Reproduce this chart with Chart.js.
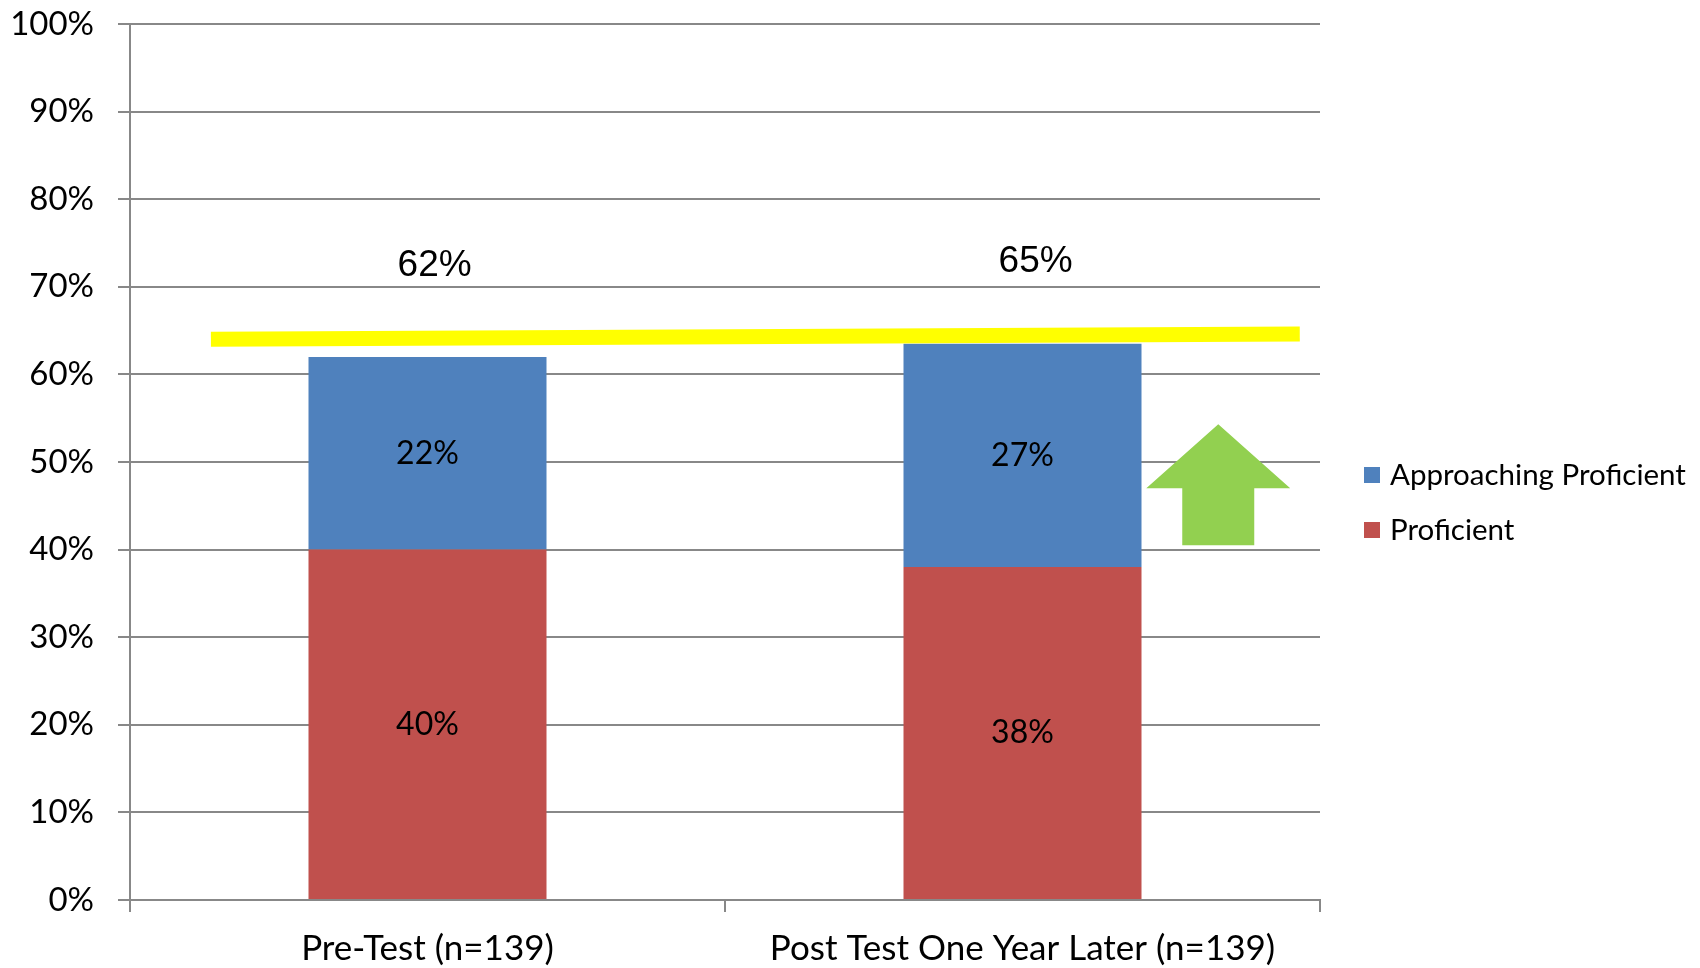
<!DOCTYPE html>
<html>
<head>
<meta charset="utf-8">
<script src="https://cdn.jsdelivr.net/npm/chart.js@4.4.1/dist/chart.umd.min.js"></script>
<style>
  html, body { margin: 0; padding: 0; background: #fff; }
</style>
</head>
<body>
<canvas id="grafico" width="1700" height="968"></canvas>
<script>
// Dados do gráfico
const categorias = ["Pre-Test (n=139)", "Post Test One Year Later (n=139)"];
const proficient = [40, 38];
const approaching = [22, 25.5];
const rotulosProficient = ["40%", "38%"];
const rotulosApproaching = ["22%", "27%"];
const rotulosTotal = ["62%", "65%"];
const linhaAmarelaX = [-0.364, 1.466];
const linhaAmarelaY = [64.0, 64.6];

const AZUL = "#4F81BD";
const VERMELHO = "#C0504D";
const CINZA = "#888888";
const FONTE = "Lato, 'Open Sans', sans-serif";

// posição dos textos de total e da seta (unidades de categoria / %)
const posTotal = [{ x: 0.012, y: 72.4 }, { x: 1.022, y: 72.9 }];
const seta = { x: 1.329, topo: 54.3, baseCabeca: 47.0, fundo: 40.5, meiaCabeca: 0.121, meiaHaste: 0.0605 };

const pluginExtras = {
  id: "extras",
  afterDatasetsDraw(chart) {
    const ctx = chart.ctx;
    const xs = chart.scales.x;
    const ys = chart.scales.y;
    ctx.save();

    // linha amarela
    ctx.strokeStyle = "#FFFF00";
    ctx.lineWidth = 15;
    ctx.lineCap = "butt";
    ctx.beginPath();
    ctx.moveTo(xs.getPixelForValue(linhaAmarelaX[0]), ys.getPixelForValue(linhaAmarelaY[0]));
    ctx.lineTo(xs.getPixelForValue(linhaAmarelaX[1]), ys.getPixelForValue(linhaAmarelaY[1]));
    ctx.stroke();

    // rótulos dentro das barras
    ctx.fillStyle = "#000";
    ctx.font = "32px " + FONTE;
    ctx.textAlign = "center";
    ctx.textBaseline = "middle";
    [rotulosProficient, rotulosApproaching].forEach((rot, i) => {
      chart.getDatasetMeta(i).data.forEach((el, j) => {
        ctx.fillText(rot[j], el.x, (el.y + el.base) / 2);
      });
    });

    // totais
    ctx.font = "37px 'Liberation Sans', Arial, sans-serif";
    rotulosTotal.forEach((t, j) => {
      ctx.fillText(t, xs.getPixelForValue(posTotal[j].x), ys.getPixelForValue(posTotal[j].y));
    });

    // seta verde
    const cx = xs.getPixelForValue(seta.x);
    const cab = xs.getPixelForValue(seta.x + seta.meiaCabeca) - cx;
    const has = xs.getPixelForValue(seta.x + seta.meiaHaste) - cx;
    const yTopo = ys.getPixelForValue(seta.topo);
    const yBase = ys.getPixelForValue(seta.baseCabeca);
    const yFundo = ys.getPixelForValue(seta.fundo);
    ctx.fillStyle = "#92D050";
    ctx.beginPath();
    ctx.moveTo(cx, yTopo);
    ctx.lineTo(cx + cab, yBase);
    ctx.lineTo(cx + has, yBase);
    ctx.lineTo(cx + has, yFundo);
    ctx.lineTo(cx - has, yFundo);
    ctx.lineTo(cx - has, yBase);
    ctx.lineTo(cx - cab, yBase);
    ctx.closePath();
    ctx.fill();

    // legenda
    const itens = [
      { texto: "Approaching Proficient", cor: AZUL, y: 475 },
      { texto: "Proficient", cor: VERMELHO, y: 530 }
    ];
    ctx.font = "29.5px " + FONTE;
    ctx.textAlign = "left";
    itens.forEach(it => {
      ctx.fillStyle = it.cor;
      ctx.fillRect(1364, it.y - 8, 16, 16);
      ctx.fillStyle = "#000";
      ctx.fillText(it.texto, 1390, it.y);
    });
    ctx.restore();
  }
};

const ctxGrafico = document.getElementById("grafico").getContext("2d");
new Chart(ctxGrafico, {
  type: "bar",
  data: {
    labels: categorias,
    datasets: [
      { label: "Proficient", data: proficient, backgroundColor: VERMELHO, categoryPercentage: 1, barPercentage: 0.4 },
      { label: "Approaching Proficient", data: approaching, backgroundColor: AZUL, categoryPercentage: 1, barPercentage: 0.4 }
    ]
  },
  options: {
    responsive: false,
    devicePixelRatio: 1,
    animation: false,
    layout: { padding: { left: 0, right: 380, top: 24, bottom: 0 } },
    plugins: { legend: { display: false }, tooltip: { enabled: false } },
    scales: {
      x: {
        stacked: true,
        grid: { offset: true, drawOnChartArea: false, drawTicks: true, tickLength: 12, color: CINZA, lineWidth: 2 },
        border: { color: CINZA, width: 2 },
        ticks: { color: "#000", font: { family: FONTE, size: 35 }, padding: 16 },
        afterFit: s => { s.height = 68; s.paddingLeft = 0; s.paddingRight = 0; }
      },
      y: {
        stacked: true,
        min: 0,
        max: 100,
        ticks: { stepSize: 10, callback: v => v + "%", color: "#000", font: { family: FONTE, size: 33 }, padding: 24 },
        grid: { color: CINZA, lineWidth: 2, tickLength: 12 },
        border: { color: CINZA, width: 2 },
        afterFit: s => { s.width = 130; s.paddingTop = 0; s.paddingBottom = 0; }
      }
    }
  },
  plugins: [pluginExtras]
});
</script>
</body>
</html>
